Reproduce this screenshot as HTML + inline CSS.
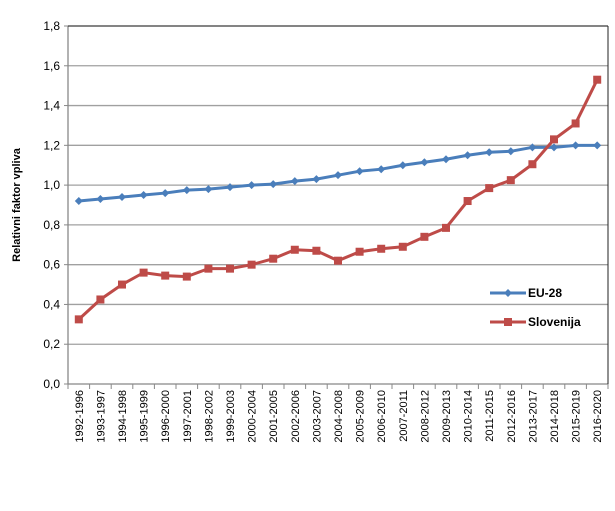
<!DOCTYPE html>
<html><head><meta charset="utf-8"><style>
body{margin:0;background:#fff;font-family:"Liberation Sans",sans-serif}
</style></head><body>
<svg width="615" height="506" xmlns="http://www.w3.org/2000/svg" id="c" font-family="Liberation Sans, sans-serif"></svg>
<script>
const categories=["1992-1996","1993-1997","1994-1998","1995-1999","1996-2000","1997-2001","1998-2002","1999-2003","2000-2004","2001-2005","2002-2006","2003-2007","2004-2008","2005-2009","2006-2010","2007-2011","2008-2012","2009-2013","2010-2014","2011-2015","2012-2016","2013-2017","2014-2018","2015-2019","2016-2020"];
const euValues=[0.92,0.93,0.94,0.95,0.96,0.975,0.98,0.99,1.0,1.005,1.02,1.03,1.05,1.07,1.08,1.1,1.115,1.13,1.15,1.165,1.17,1.19,1.19,1.2,1.2];
const sloValues=[0.325,0.425,0.5,0.56,0.545,0.54,0.58,0.58,0.6,0.63,0.675,0.67,0.62,0.665,0.68,0.69,0.74,0.785,0.92,0.985,1.025,1.105,1.23,1.31,1.53];
const yTicks=[0,0.2,0.4,0.6,0.8,1.0,1.2,1.4,1.6,1.8];
const L=68,R=608,T=26,B=384;
const svg=document.getElementById('c');const NS="http://www.w3.org/2000/svg";
const step=(R-L)/categories.length;
const x=i=>L+step*(i+0.5);
const y=v=>B-(v/1.8)*(B-T);
function el(t,a,p){const e=document.createElementNS(NS,t);for(const k in a)e.setAttribute(k,a[k]);(p||svg).appendChild(e);return e;}
yTicks.forEach(v=>{
 const g=el('line',{x1:L,x2:R,y1:y(v),y2:y(v),stroke:v===0?'#888':'#a0a0a0','stroke-width':1.3});
 
 
 const t=el('text',{x:L-8,y:y(v)+4,'text-anchor':'end','font-size':12,fill:'#000'});t.textContent=v.toFixed(1).replace('.',',');
 
 
 el('line',{x1:L-4,x2:L,y1:y(v),y2:y(v),stroke:'#888'});
});
const ax=el('line',{x1:L,x2:L,y1:T,y2:B,stroke:'#888','stroke-width':1.3});


el('line',{x1:R,x2:R,y1:T,y2:B,stroke:'#222','stroke-width':1});
el('line',{x1:L,x2:R,y1:T,y2:T,stroke:'#222','stroke-width':1});
categories.forEach((c,i)=>{
 el('line',{x1:L+step*i,x2:L+step*i,y1:B,y2:B+5,stroke:'#888'});
 const t=el('text',{transform:`translate(${x(i)+4},${B+6}) rotate(-90)`,'text-anchor':'end','font-size':11,fill:'#000'});t.textContent=c;
 
 
});
el('line',{x1:R,x2:R,y1:B,y2:B+5,stroke:'#888'});
const yt=el('text',{transform:'translate(20,205) rotate(-90)','text-anchor':'middle','font-size':11,'font-weight':'bold'});yt.textContent='Relativni faktor vpliva';


function series(vals,color,name,sq){
 const p=el('polyline',{points:vals.map((v,i)=>x(i)+','+y(v)).join(' '),fill:'none',stroke:color,'stroke-width':3});
 
 
 vals.forEach((v,i)=>{
  const m=sq?el('rect',{x:x(i)-4,y:y(v)-4,width:8,height:8,fill:color}):el('path',{d:`M${x(i)},${y(v)-4}L${x(i)+4},${y(v)}L${x(i)},${y(v)+4}L${x(i)-4},${y(v)}Z`,fill:color});
  
  
 });
}
series(euValues,'#4a7ebb','eu28',false);
series(sloValues,'#be4b48','slovenija',true);
function legend(yy,color,label,sq,name){
 el('line',{x1:490,x2:526,y1:yy,y2:yy,stroke:color,'stroke-width':3});
 if(sq)el('rect',{x:504,y:yy-4,width:8,height:8,fill:color});else el('path',{d:`M508,${yy-4}L512,${yy}L508,${yy+4}L504,${yy}Z`,fill:color});
 const t=el('text',{x:528,y:yy+4,'font-size':12,'font-weight':'bold'});t.textContent=label;
 
 
}
legend(293,'#4a7ebb','EU-28',false,'legend-eu28');
legend(322,'#be4b48','Slovenija',true,'legend-slovenija');
</script>
</body></html>
